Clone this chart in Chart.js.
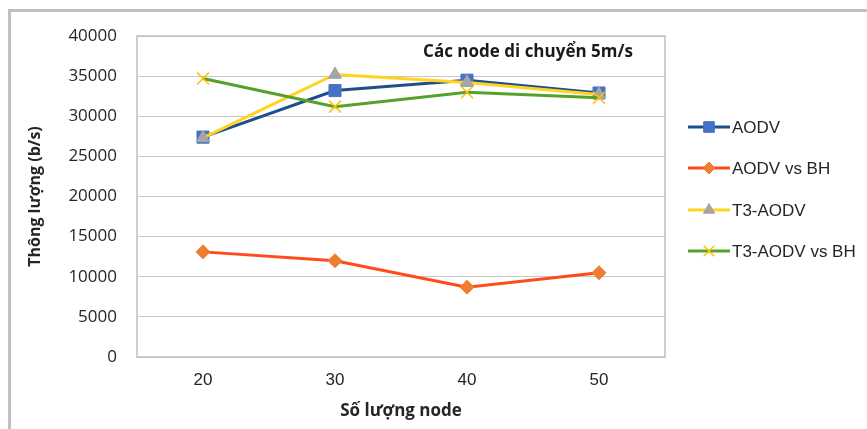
<!DOCTYPE html>
<html>
<head>
<meta charset="utf-8">
<script src="https://cdn.jsdelivr.net/npm/chart.js@4.4.1/dist/chart.umd.min.js"></script>
<style>
  html, body { margin: 0; padding: 0; background: #fff; }
  #wrap { position: relative; width: 867px; height: 429px; overflow: hidden; }
  #frame {
    position: absolute; left: 8px; top: 9px;
    width: 900px; height: 460px;
    border: 3px solid #bfbfbf; box-sizing: border-box;
  }
  #chart { position: absolute; left: 0; top: 0; }
</style>
</head>
<body>
<div id="wrap">
  <div id="frame"></div>
  <canvas id="chart" width="867" height="429"></canvas>
</div>
<script>
// ---- Data ----
const categories = ['20', '30', '40', '50'];
const seriesNames = ['AODV', 'AODV vs BH', 'T3-AODV', 'T3-AODV vs BH'];
const aodv     = [27400, 33200, 34500, 32900];
const aodvBH   = [13100, 12000, 8700, 10500];
const t3aodv   = [27300, 35200, 34200, 32700];
const t3aodvBH = [34700, 31200, 33000, 32300];
const yTicks   = [0, 5000, 10000, 15000, 20000, 25000, 30000, 35000, 40000];

const chartNote = 'Các node di chuyển 5m/s';
const xTitle = 'Số lượng node';
const yTitle = 'Thông lượng (b/s)';

// ---- Styles per series ----
const styles = [
  { line: '#1f4e8c', fill: '#4472c4', stroke: '#4472c4', shape: 'rect',     radius: 8.5 },
  { line: '#ff4a1c', fill: '#ed7d31', stroke: '#ed7d31', shape: 'rectRot',  radius: 7 },
  { line: '#ffd320', fill: '#a5a5a5', stroke: '#a5a5a5', shape: 'triangle', radius: 7.5 },
  { line: '#56a12a', fill: '#ffc000', stroke: '#ffc000', shape: 'crossRot', radius: 8.5 },
];
const seriesValues = [aodv, aodvBH, t3aodv, t3aodvBH];

// plot frame around the chart area
const plotFrame = {
  id: 'plotFrame',
  beforeDatasetsDraw(chart) {
    const { ctx, chartArea: a } = chart;
    ctx.save();
    ctx.strokeStyle = '#bfbfbf';
    ctx.lineWidth = 1.5;
    ctx.strokeRect(a.left, a.top, a.right - a.left, a.bottom - a.top);
    ctx.restore();
  }
};

// note inside plot area (top right)
const notePlugin = {
  id: 'notePlugin',
  afterDraw(chart) {
    const { ctx } = chart;
    ctx.save();
    ctx.font = "bold 17px 'Open Sans', sans-serif";
    ctx.fillStyle = '#1a1a1a';
    ctx.textAlign = 'center';
    ctx.textBaseline = 'middle';
    ctx.fillText(chartNote, 528, 52);
    ctx.restore();
  }
};

// legend on the right: line + marker + label
const sideLegend = {
  id: 'sideLegend',
  afterDraw(chart) {
    const { ctx } = chart;
    const rows = [127, 168, 210, 251];
    ctx.save();
    chart.data.datasets.forEach((ds, i) => {
      const y = rows[i];
      const st = styles[i];
      ctx.strokeStyle = st.line;
      ctx.lineWidth = 3;
      ctx.beginPath();
      ctx.moveTo(688, y);
      ctx.lineTo(730, y);
      ctx.stroke();
      ctx.fillStyle = st.fill;
      ctx.strokeStyle = st.stroke;
      ctx.lineWidth = st.shape === 'crossRot' ? 1.5 : 1;
      Chart.helpers.drawPoint(ctx, { pointStyle: st.shape, radius: st.radius - 1, borderWidth: ctx.lineWidth, rotation: 0 }, 709, y);
      ctx.fillStyle = '#262626';
      ctx.font = "17px 'Liberation Sans', Arial, sans-serif";
      ctx.textAlign = 'left';
      ctx.textBaseline = 'middle';
      ctx.fillText(ds.label, 732, y + 1);
    });
    ctx.restore();
  }
};

const datasets = seriesNames.map((name, i) => ({
  label: name,
  data: seriesValues[i],
  borderColor: styles[i].line,
  borderWidth: 3,
  pointStyle: styles[i].shape,
  pointRadius: styles[i].radius,
  pointHoverRadius: styles[i].radius,
  pointBackgroundColor: styles[i].fill,
  pointBorderColor: styles[i].stroke,
  pointBorderWidth: styles[i].shape === 'crossRot' ? 1.5 : 1,
  tension: 0,
  fill: false,
  order: seriesNames.length - i,
}));

new Chart(document.getElementById('chart'), {
  type: 'line',
  data: { labels: categories, datasets },
  options: {
    responsive: false,
    animation: false,
    devicePixelRatio: 1,
    layout: { padding: { left: 0, top: 36, right: 202, bottom: 0 } },
    plugins: {
      legend: { display: false },
      tooltip: { enabled: false },
    },
    scales: {
      x: {
        offset: true,
        grid: { display: false, drawTicks: false },
        border: { display: false },
        ticks: {
          color: '#262626',
          padding: 13,
          font: { family: "'Liberation Sans', Arial, sans-serif", size: 17 },
        },
        title: {
          display: true,
          text: xTitle,
          color: '#262626',
          padding: { top: 0, bottom: 8 },
          font: { family: "'Open Sans', sans-serif", size: 17, weight: 'bold' },
        },
        afterFit(scale) { scale.height = 72; },
      },
      y: {
        min: 0,
        max: 40000,
        afterBuildTicks(scale) { scale.ticks = yTicks.map(v => ({ value: v })); },
        grid: { color: '#c8c8c8', lineWidth: 1, drawTicks: false },
        border: { display: false },
        ticks: {
          color: '#262626',
          padding: 20,
          callback: (v) => String(v),
          font: { family: "'Open Sans', sans-serif", size: 17 },
        },
        title: {
          display: true,
          text: yTitle,
          color: '#262626',
          padding: { top: 26, bottom: 0 },
          font: { family: "'Open Sans', sans-serif", size: 16, weight: 'bold' },
        },
        afterFit(scale) { scale.width = 137; },
      },
    },
  },
  plugins: [plotFrame, notePlugin, sideLegend],
});
</script>
</body>
</html>
